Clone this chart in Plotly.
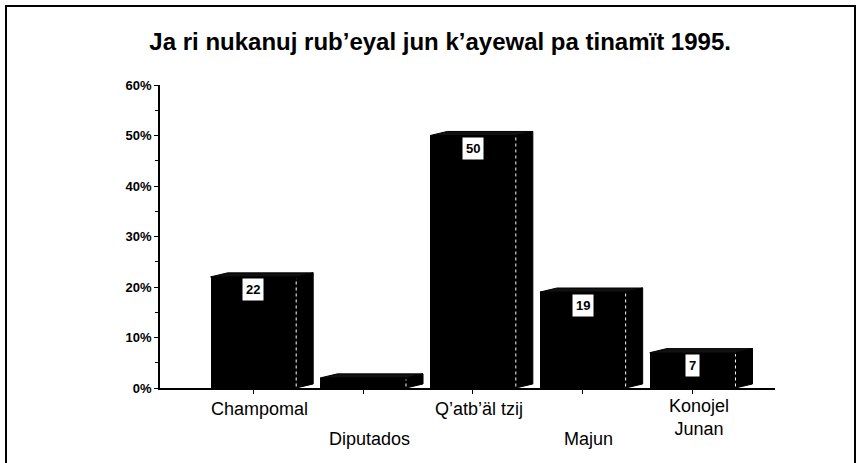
import plotly.graph_objects as go

# Datos del gráfico
categorias = ["Champomal", "Diputados", "Q’atb’äl tzij", "Majun", "Konojel<br>Junan"]
valores = [22, 2, 50, 19, 7]
etiquetas = ["22", "", "50", "19", "7"]
escalon = [0, 1, 0, 1, 0]  # etiquetas alternadas arriba/abajo

titulo = "Ja ri nukanuj rub’eyal jun k’ayewal pa tinamït 1995."
FUENTE = "Liberation Sans, Arial, sans-serif"

ANCHO = 0.78   # ancho de la cara frontal
DX = 0.155     # profundidad 3D en x (unidades de categoría)
DY = 0.8       # profundidad 3D en y (%)

fig = go.Figure()
xs = list(range(len(categorias)))

# cara frontal
fig.add_trace(go.Bar(
    x=xs, y=valores, width=ANCHO,
    marker=dict(color="black", line=dict(width=0)),
    showlegend=False, hoverinfo="skip"
))

# caras lateral y superior (efecto 3D)
for x, v in zip(xs, valores):
    izq, der = x - ANCHO / 2, x + ANCHO / 2
    fig.add_trace(go.Scatter(
        x=[der, der + DX, der + DX, der, der],
        y=[0, DY, v + DY, v, 0],
        fill="toself", fillcolor="black", mode="lines",
        line=dict(color="black", width=1),
        showlegend=False, hoverinfo="skip"
    ))
    fig.add_trace(go.Scatter(
        x=[izq, izq + DX, der + DX, der, izq],
        y=[v, v + DY, v + DY, v, v],
        fill="toself", fillcolor="#111", mode="lines",
        line=dict(color="black", width=1),
        showlegend=False, hoverinfo="skip"
    ))
    # arista blanca entre frente y lateral
    fig.add_trace(go.Scatter(
        x=[der, der], y=[0.3, v - 0.3], mode="lines",
        line=dict(color="white", width=1, dash="dot"),
        showlegend=False, hoverinfo="skip"
    ))

# etiquetas de valor en cajas blancas
for x, v, t in zip(xs, valores, etiquetas):
    if t:
        fig.add_annotation(
            x=x, y=v, yanchor="middle", yshift=-13, text="<b>%s</b>" % t,
            showarrow=False, bgcolor="white", borderpad=3,
            font=dict(family=FUENTE, size=13, color="black")
        )

# nombres de categorías
for x, c, e in zip(xs, categorias, escalon):
    fig.add_annotation(
        x=x, y=0, yref="y", xshift=6, yanchor="top",
        yshift=-9 - 30 * e if "<br>" not in c else -6,
        text=c, showarrow=False,
        font=dict(family=FUENTE, size=18, color="black")
    )

# marco
fig.add_shape(
    type="rect", xref="paper", yref="paper",
    x0=(6 - 160) / 615, x1=(855 - 160) / 615,
    y0=-(463 - 388 + 10) / 303, y1=1 + (85 - 6) / 303,
    line=dict(color="black", width=2)
)

fig.update_layout(
    width=863, height=463,
    margin=dict(l=160, r=88, t=85, b=75),
    paper_bgcolor="white", plot_bgcolor="white",
    font=dict(family=FUENTE, color="black"),
    title=dict(text="<b>%s</b>" % titulo, x=0.51, xanchor="center", y=0.91, yanchor="middle",
               font=dict(family=FUENTE, size=24, color="black")),
    bargap=0,
    xaxis=dict(range=[-0.85, 4.75], tickvals=xs, ticktext=[""] * 5,
               showline=True, linecolor="black", linewidth=1.5,
               ticks="outside", ticklen=4, tickcolor="black",
               showgrid=False, zeroline=False, fixedrange=True),
    yaxis=dict(range=[0, 60], dtick=10, ticksuffix="%",
               showline=True, linecolor="black", linewidth=1.5,
               ticks="outside", ticklen=4, tickcolor="black",
               minor=dict(dtick=5, ticks="outside", ticklen=3, tickcolor="black"),
               tickfont=dict(family=FUENTE, size=13, color="black", weight="bold"),
               showgrid=False, zeroline=False, fixedrange=True),
)

# sin margen del body para que el gráfico empiece en (0, 0)
fig.write_html("out.html", config={"displayModeBar": False},
               post_script="document.body.style.margin='0';")
